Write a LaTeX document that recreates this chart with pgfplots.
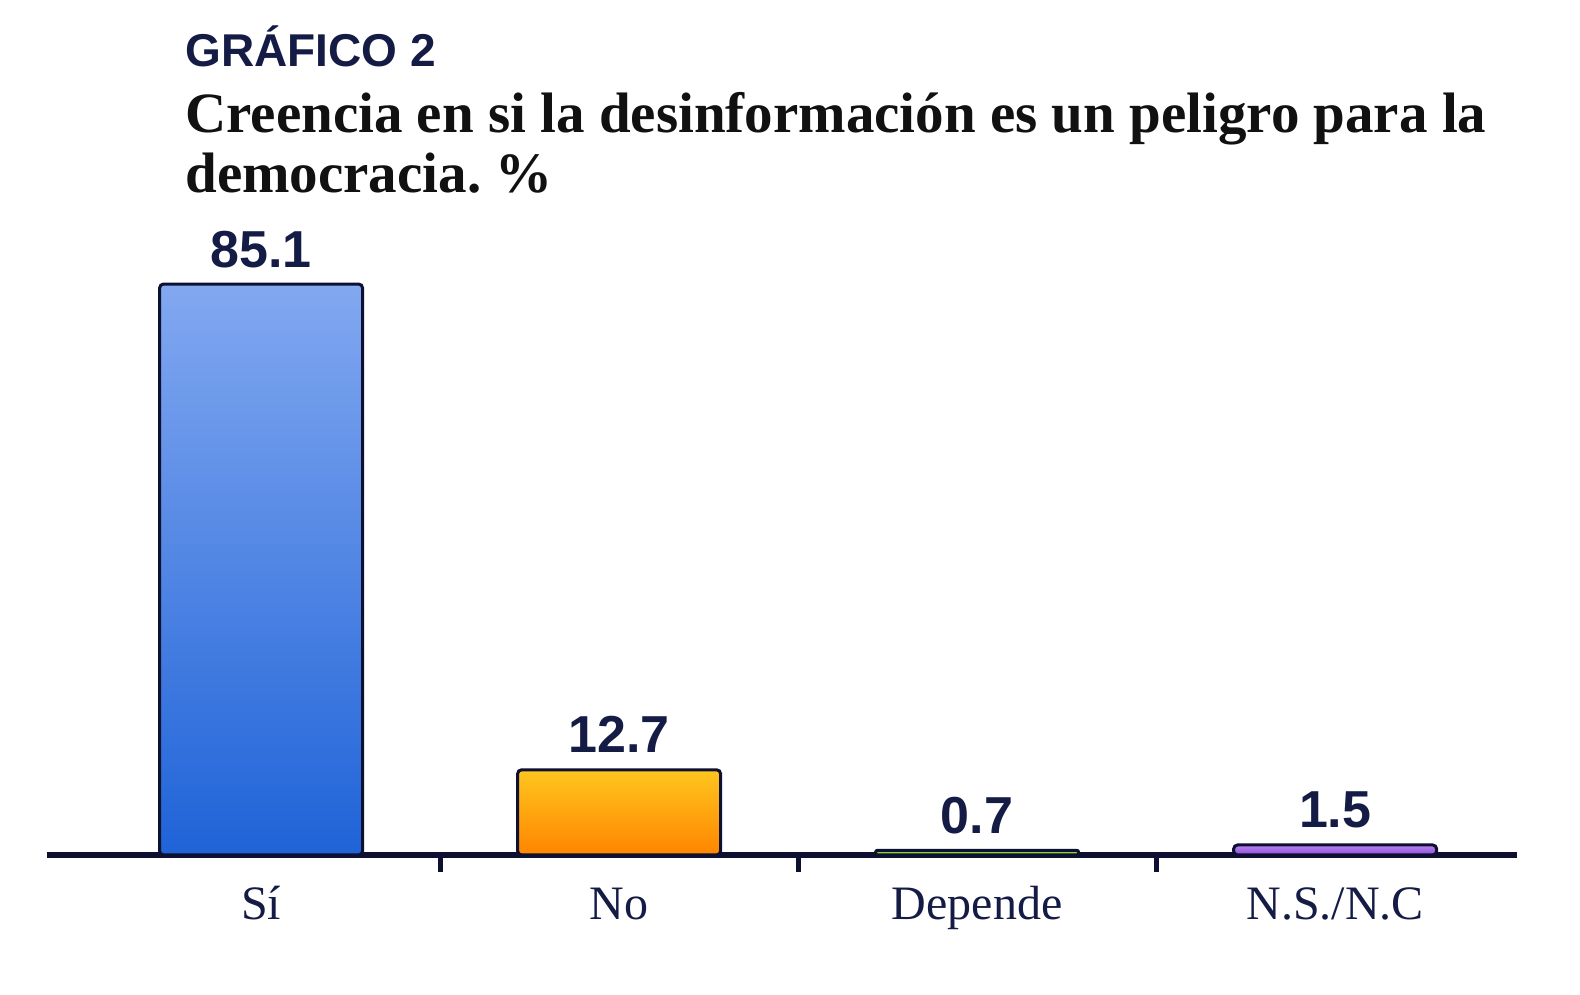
\documentclass[border=0pt]{standalone}
\usepackage{pgfplots}
\pgfplotsset{compat=1.18}
\usepackage{fontspec}
\setmainfont{Liberation Serif}
\newfontfamily\labsans{Liberation Sans}
\definecolor{navy}{HTML}{141B45}
\definecolor{axisnavy}{HTML}{0D1030}
\definecolor{titlek}{HTML}{111111}
\definecolor{bluetop}{HTML}{82A8F0}
\definecolor{bluebot}{HTML}{1F63D8}
\definecolor{orgtop}{HTML}{FFC61E}
\definecolor{orgbot}{HTML}{FF8500}
\definecolor{grntop}{HTML}{A6DC3C}
\definecolor{grnbot}{HTML}{78BE14}
\definecolor{purtop}{HTML}{B882F2}
\definecolor{purbot}{HTML}{9050D8}
\begin{document}
\frenchspacing
\begin{tikzpicture}
% titles
\node[anchor=base west, inner sep=0pt, text=navy, font=\labsans\bfseries\fontsize{23}{23}\selectfont] at (92.5pt,464pt) {GRÁFICO 2};
\node[anchor=base west, inner sep=0pt, text=titlek, font=\bfseries\fontsize{28.5}{30}\selectfont] at (92.5pt,431pt) {Creencia en si la desinformación es un peligro para la};
\node[anchor=base west, inner sep=0pt, text=titlek, font=\bfseries\fontsize{28.5}{30}\selectfont] at (92.5pt,401pt) {democracia. \%};
\begin{axis}[
  at={(23.5pt,70pt)}, anchor=south west,
  scale only axis, width=735pt, height=285.5pt,
  xmin=-0.598, xmax=3.508, ymin=0, ymax=85.1,
  clip=false,
  axis y line=none,
  axis x line*=bottom,
  x axis line style={line width=3pt, draw=axisnavy},
  xtick={0,1,2,3},
  xticklabels={Sí,No,Depende,N.S./N.C},
  major tick length=0pt,
  xticklabel style={anchor=base, yshift=-32.5pt, text=navy, font=\fontsize{24}{24}\selectfont},
  extra x ticks={0.5,1.5,2.5},
  extra x tick labels={},
  extra x tick style={major tick length=8.5pt, tick align=outside, tick style={line width=2.5pt, draw=axisnavy}},
  ybar, bar width=101.5pt,
  point meta=explicit symbolic,
  nodes near coords,
  every node near coord/.style={anchor=base, yshift=8.5pt, text=navy, font=\labsans\bfseries\fontsize{26}{26}\selectfont},
]
\addplot[bar shift=0pt, draw=axisnavy, line width=1.5pt, rounded corners=2pt, top color=bluetop, bottom color=bluebot] coordinates {(0,85.1) [85.1]};
\addplot[bar shift=0pt, draw=axisnavy, line width=1.5pt, rounded corners=2pt, top color=orgtop, bottom color=orgbot] coordinates {(1,12.7) [12.7]};
\addplot[bar shift=0pt, draw=axisnavy, line width=1.5pt, rounded corners=1pt, top color=grntop, bottom color=grnbot] coordinates {(2,0.7) [0.7]};
\addplot[bar shift=0pt, draw=axisnavy, line width=1.5pt, rounded corners=2pt, top color=purtop, bottom color=purbot] coordinates {(3,1.5) [1.5]};
\end{axis}
\pgfresetboundingbox
\path[use as bounding box] (0,0) rectangle (790pt,497.5pt);
\end{tikzpicture}
\end{document}
